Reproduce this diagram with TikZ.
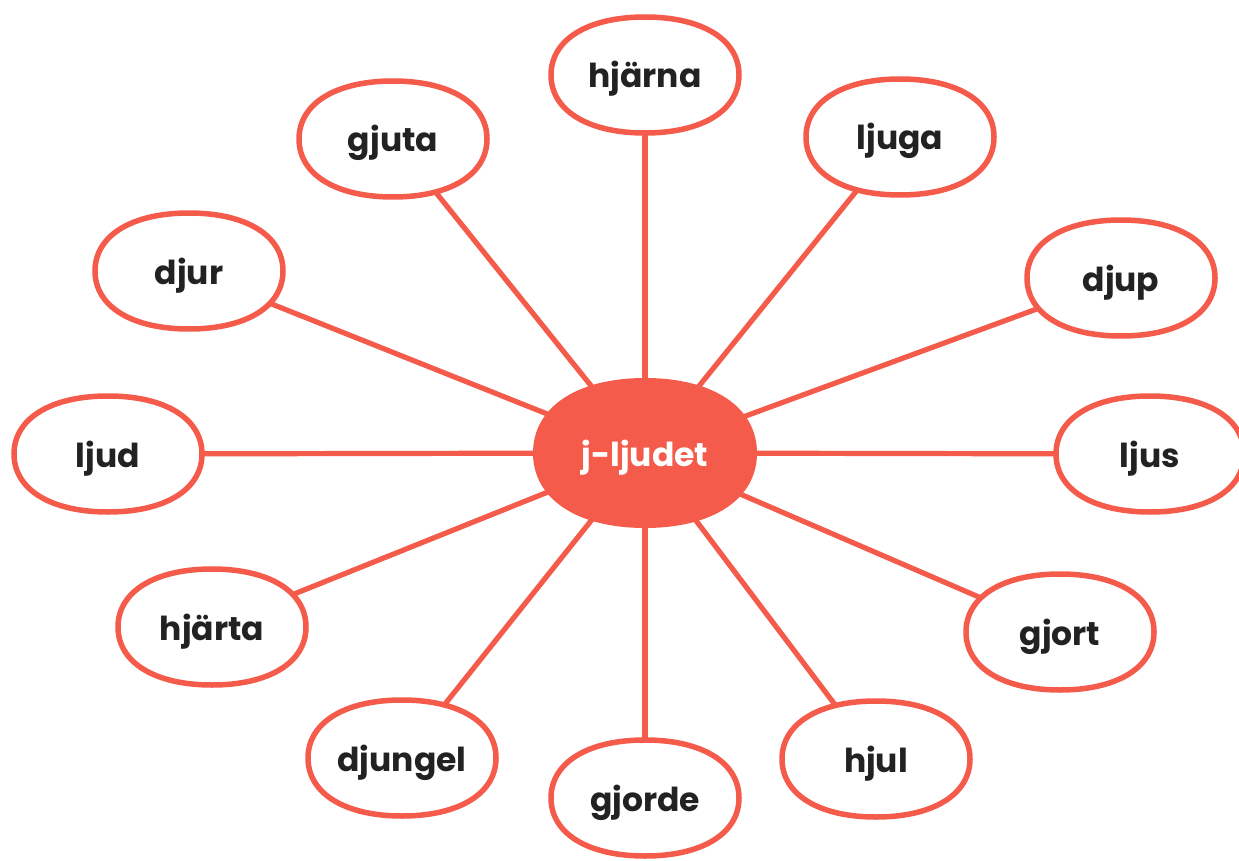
\documentclass[tikz,border=0pt]{standalone}
\usepackage{fontspec}
\setmainfont{Poppins}
\usetikzlibrary{shapes.geometric}
\definecolor{jred}{HTML}{F55B4B}
\definecolor{jtext}{HTML}{222222}
\pgfdeclarelayer{lines}
\pgfdeclarelayer{blobs}
\pgfsetlayers{lines,blobs,main}
\newcommand\blobk{0.61}
\newcommand\drawblob[4]{%
  \begin{scope}[shift={(#1.center)}]
  \path[#4] (#2,0) .. controls (#2,\blobk*#3) and (\blobk*#2,#3) .. (0,#3)
    .. controls (-\blobk*#2,#3) and (-#2,\blobk*#3) .. (-#2,0)
    .. controls (-#2,-\blobk*#3) and (-\blobk*#2,-#3) .. (0,-#3)
    .. controls (\blobk*#2,-#3) and (#2,-\blobk*#3) .. (#2,0) -- cycle;
  \end{scope}}
\tikzset{
  word/.style={shape=ellipse, inner sep=0pt, minimum width=188pt, minimum height=116pt,
    font=\fontsize{33}{33}\selectfont\bfseries, text=jtext, text height=26pt, text depth=0pt},
  hub/.style={word, minimum width=220pt, minimum height=148pt, text=white},
  link/.style={draw=jred, line width=5.2pt},
  blobout/.style={draw=jred, line width=5.5pt, fill=white},
  blobhub/.style={fill=jred}
}
\begin{document}
\begin{tikzpicture}[x=1pt,y=-1pt]
\useasboundingbox (0,0) rectangle (1239,861);
\node[hub]  (c)   at (645,453) {j-ljudet};
\node[word] (n1)  at (645,75)  {hjärna};
\node[word] (n2)  at (900,137) {ljuga};
\node[word] (n3)  at (1121,278) {djup};
\node[word] (n4)  at (1150,454) {ljus};
\node[word] (n5)  at (1060,632) {gjort};
\node[word] (n6)  at (876,759) {hjul};
\node[word] (n7)  at (645,798) {gjorde};
\node[word] (n8)  at (402,758) {djungel};
\node[word] (n9)  at (212,627) {hjärta};
\node[word] (n10) at (108,454) {ljud};
\node[word] (n11) at (189,271) {djur};
\node[word] (n12) at (393,139) {gjuta};
\begin{pgfonlayer}{lines}
\foreach \n in {n1,n2,n3,n4,n5,n6,n7,n8,n9,n10,n11,n12}
  \draw[link] (c) -- (\n);
\end{pgfonlayer}
\begin{pgfonlayer}{blobs}
\drawblob{c}{112}{75}{blobhub}
\foreach \n in {n1,n2,n3,n4,n5,n6,n7,n8,n9,n10,n11,n12}
  \drawblob{\n}{94}{58}{blobout};
\end{pgfonlayer}
\end{tikzpicture}
\end{document}
